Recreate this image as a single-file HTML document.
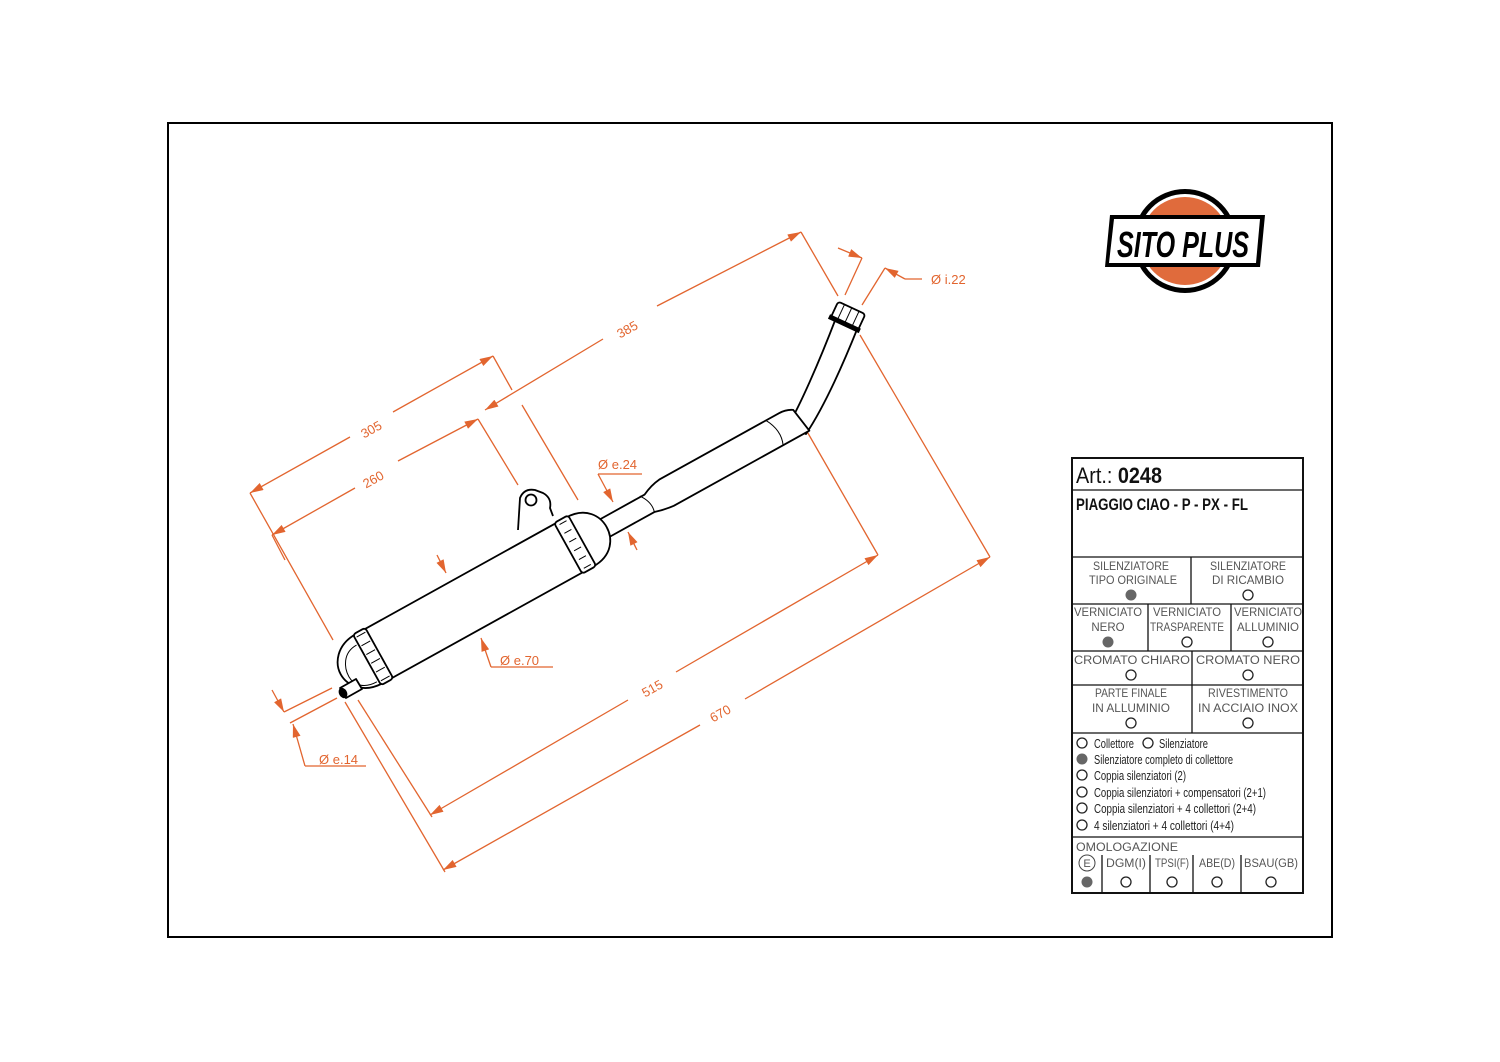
<!DOCTYPE html>
<html><head><meta charset="utf-8"><style>
html,body{margin:0;padding:0;background:#fff}
svg{display:block}
.o{stroke:#e2652f;stroke-width:1.3;fill:none}
.ot{fill:#e2652f;font-family:"Liberation Sans",sans-serif;font-size:13px}
.k{stroke:#000;stroke-width:1.8;fill:#fff;stroke-linejoin:round}
.kt{stroke:#000;stroke-width:1;fill:none}
.t{font-family:"Liberation Sans",sans-serif;font-size:11.5px;fill:#555;text-anchor:middle}
.l{font-family:"Liberation Sans",sans-serif;font-size:12.5px;fill:#222}
.c{fill:#fff;stroke:#222;stroke-width:1.3}
.f{fill:#666}
</style></head><body>
<svg width="1500" height="1062" viewBox="0 0 1500 1062">
<defs>
<marker id="a" viewBox="0 0 10 6" refX="10" refY="3" markerWidth="14" markerHeight="8" markerUnits="userSpaceOnUse" orient="auto-start-reverse"><path d="M0,0L10,3L0,6z" fill="#e2652f"/></marker>
</defs>
<rect x="168" y="123" width="1164" height="814" fill="none" stroke="#000" stroke-width="2"/>

<!-- logo -->
<circle cx="1185" cy="241" r="52" fill="#000"/>
<circle cx="1185" cy="241" r="47" fill="#fff"/>
<circle cx="1185" cy="241" r="44" fill="#e06b3c"/>
<path d="M1110,215 L1265,215 L1260,267 L1105,267 Z" fill="#000"/>
<path d="M1114,219 L1260,219 L1256,263 L1109,263 Z" fill="#fff"/>
<text x="1183" y="257" text-anchor="middle" font-family="Liberation Sans,sans-serif" font-weight="bold" font-style="italic" font-size="36" textLength="132" lengthAdjust="spacingAndGlyphs" fill="#000">SITO PLUS</text>

<!-- dimension lines -->
<g class="o">
<line x1="250" y1="493" x2="333" y2="640"/>
<line x1="250" y1="493" x2="350" y2="437" marker-start="url(#a)"/>
<line x1="393" y1="412" x2="493" y2="356" marker-end="url(#a)"/>
<line x1="493" y1="356" x2="512" y2="390"/>
<line x1="485" y1="410" x2="603" y2="339" marker-start="url(#a)"/>
<line x1="657" y1="306" x2="801" y2="232" marker-end="url(#a)"/>
<line x1="801" y1="232" x2="838" y2="296"/>
<line x1="272" y1="535" x2="355" y2="488" marker-start="url(#a)"/>
<line x1="398" y1="461" x2="478" y2="419" marker-end="url(#a)"/>
<line x1="478" y1="419" x2="518" y2="485"/>
<line x1="272" y1="535" x2="285" y2="560"/>
<line x1="522" y1="405" x2="578" y2="500"/>
<line x1="838" y1="248" x2="862" y2="258" marker-end="url(#a)"/>
<line x1="862" y1="258" x2="845" y2="295"/>
<line x1="885" y1="268" x2="862" y2="305"/>
<line x1="905" y1="279" x2="885" y2="268" marker-end="url(#a)"/>
<line x1="905" y1="279" x2="922" y2="279"/>
<line x1="805" y1="428" x2="878" y2="555"/>
<line x1="860" y1="335" x2="990" y2="557"/>
<line x1="358" y1="700" x2="432" y2="817"/>
<line x1="345" y1="702" x2="445" y2="872"/>
<line x1="430" y1="815" x2="628" y2="700" marker-start="url(#a)"/>
<line x1="676" y1="672" x2="878" y2="555" marker-end="url(#a)"/>
<line x1="443" y1="870" x2="700" y2="725" marker-start="url(#a)"/>
<line x1="745" y1="699" x2="990" y2="557" marker-end="url(#a)"/>
<line x1="598" y1="474" x2="642" y2="474"/>
<line x1="598" y1="474" x2="613" y2="502" marker-end="url(#a)"/>
<line x1="637" y1="550" x2="628" y2="532" marker-end="url(#a)"/>
<line x1="437" y1="555" x2="446" y2="573" marker-end="url(#a)"/>
<line x1="491" y1="667" x2="553" y2="667"/>
<line x1="491" y1="667" x2="481" y2="638" marker-end="url(#a)"/>
<line x1="272" y1="690" x2="284" y2="712" marker-end="url(#a)"/>
<line x1="284" y1="712" x2="332" y2="688"/>
<line x1="290" y1="723" x2="337" y2="698"/>
<line x1="305" y1="766" x2="293" y2="724" marker-end="url(#a)"/>
<line x1="305" y1="766" x2="366" y2="766"/>
</g>
<g class="ot" text-anchor="middle">
<text x="0" y="5" transform="translate(627,329) rotate(-29)">385</text>
<text x="0" y="5" transform="translate(371,429) rotate(-29)">305</text>
<text x="0" y="5" transform="translate(373,479) rotate(-29)">260</text>
<text x="0" y="5" transform="translate(652,688) rotate(-29)">515</text>
<text x="0" y="5" transform="translate(720,713) rotate(-29)">670</text>
</g>
<g class="ot">
<text x="931" y="284">Ø i.22</text>
<text x="598" y="469">Ø e.24</text>
<text x="500" y="665">Ø e.70</text>
<text x="319" y="764">Ø e.14</text>
</g>

<!-- muffler -->
<path class="k" d="M788,426 C800,405 818,365 836,318 L858,327 C840,372 822,410 806,434 Z"/>
<g transform="translate(374,656) rotate(-29)">
<path class="k" d="M262,-10 L315,-10 Q325,-15 335,-16 L472,-16 Q480,-16 486,-12 L490,14 L335,14 Q325,13 315,10 L262,10 Z"/>
<path class="kt" d="M310,-11 Q318,0 315,10"/>
<path class="kt" d="M457,-16 Q466,0 460,14"/>
<path class="k" d="M235,-28 C258,-28 266,-12 266,0 C266,12 258,28 235,28 Z"/>
<rect class="k" x="0" y="-28" width="228" height="56"/>
<rect class="k" x="222" y="-29" width="16" height="58" rx="3"/>
<path class="kt" d="M226,-25 L234,-25 M226,-15 L234,-15 M226,-5 L234,-5 M226,5 L234,5 M226,15 L234,15 M226,25 L234,25"/>
<path class="k" d="M-5,-28 C-28,-28 -38,-12 -38,0 C-38,12 -28,28 -5,28 Z"/>
<rect class="k" x="-8" y="-29" width="14" height="58" rx="3"/>
<path class="kt" d="M-6,-25 L4,-25 M-6,-15 L4,-15 M-6,-5 L4,-5 M-6,5 L4,5 M-6,15 L4,15 M-6,25 L4,25"/>
<path class="kt" d="M-10,-18 C-26,-18 -32,-4 -32,6 C-32,16 -24,24 -10,24"/>
</g>
<path class="k" d="M340,688 L356,679 L362,689 L346,698 Z"/>
<ellipse cx="343" cy="693" rx="4" ry="5.5" fill="#000" transform="rotate(-29 343 693)"/>
<path class="k" d="M518,530 L520,498 Q524,488 535,490 L543,493 Q552,498 550,508 L553,516"/>
<circle class="k" cx="531" cy="500" r="5.5"/>
<g transform="translate(848,316) rotate(25)">
<rect class="k" x="-15" y="-9" width="30" height="18" rx="3"/>
<path class="kt" d="M-8,-9 L-8,9 M0,-9 L0,9 M8,-9 L8,9"/>
<rect x="-17" y="6" width="34" height="5" fill="#000"/>
</g>

<!-- table -->
<g fill="none" stroke="#111">
<rect x="1072" y="458" width="231" height="435" stroke-width="2"/>
<g stroke-width="1.3">
<line x1="1072" y1="490" x2="1303" y2="490"/>
<line x1="1072" y1="557" x2="1303" y2="557"/>
<line x1="1072" y1="604" x2="1303" y2="604"/>
<line x1="1072" y1="651" x2="1303" y2="651"/>
<line x1="1072" y1="685" x2="1303" y2="685"/>
<line x1="1072" y1="733" x2="1303" y2="733"/>
<line x1="1072" y1="837" x2="1303" y2="837"/>
<line x1="1191" y1="557" x2="1191" y2="604"/>
<line x1="1148" y1="604" x2="1148" y2="651"/>
<line x1="1231" y1="604" x2="1231" y2="651"/>
<line x1="1192" y1="651" x2="1192" y2="733"/>
<line x1="1102" y1="855" x2="1102" y2="893"/>
<line x1="1150" y1="855" x2="1150" y2="893"/>
<line x1="1193" y1="855" x2="1193" y2="893"/>
<line x1="1241" y1="855" x2="1241" y2="893"/>
</g></g>
<text x="1076" y="483" font-family="Liberation Sans,sans-serif" font-size="22" fill="#111" textLength="86" lengthAdjust="spacingAndGlyphs">Art.: <tspan font-weight="bold">0248</tspan></text>
<text x="1076" y="510" font-family="Liberation Sans,sans-serif" font-size="17" font-weight="bold" fill="#111" textLength="172" lengthAdjust="spacingAndGlyphs">PIAGGIO CIAO - P - PX - FL</text>
<circle cx="1087" cy="863" r="8" fill="none" stroke="#444" stroke-width="1"/>
<g class="t">
<text x="1131" y="570" textLength="76" lengthAdjust="spacingAndGlyphs">SILENZIATORE</text><text x="1133" y="584" textLength="88" lengthAdjust="spacingAndGlyphs">TIPO ORIGINALE</text>
<text x="1248" y="570" textLength="76" lengthAdjust="spacingAndGlyphs">SILENZIATORE</text><text x="1248" y="584" textLength="72" lengthAdjust="spacingAndGlyphs">DI RICAMBIO</text>
<text x="1108" y="616" textLength="68" lengthAdjust="spacingAndGlyphs">VERNICIATO</text><text x="1108" y="631">NERO</text>
<text x="1187" y="616" textLength="68" lengthAdjust="spacingAndGlyphs">VERNICIATO</text><text x="1187" y="631" textLength="74" lengthAdjust="spacingAndGlyphs">TRASPARENTE</text>
<text x="1268" y="616" textLength="68" lengthAdjust="spacingAndGlyphs">VERNICIATO</text><text x="1268" y="631" textLength="62" lengthAdjust="spacingAndGlyphs">ALLUMINIO</text>
<text x="1132" y="664" textLength="116" lengthAdjust="spacingAndGlyphs">CROMATO CHIARO</text>
<text x="1248" y="664" textLength="104" lengthAdjust="spacingAndGlyphs">CROMATO NERO</text>
<text x="1131" y="697" textLength="72" lengthAdjust="spacingAndGlyphs">PARTE FINALE</text><text x="1131" y="712" textLength="78" lengthAdjust="spacingAndGlyphs">IN ALLUMINIO</text>
<text x="1248" y="697" textLength="80" lengthAdjust="spacingAndGlyphs">RIVESTIMENTO</text><text x="1248" y="712" textLength="100" lengthAdjust="spacingAndGlyphs">IN ACCIAIO INOX</text>
<text x="1076" y="851" text-anchor="start" textLength="102" lengthAdjust="spacingAndGlyphs">OMOLOGAZIONE</text>
<text x="1126" y="867" textLength="40" lengthAdjust="spacingAndGlyphs">DGM(I)</text><text x="1172" y="867" textLength="34" lengthAdjust="spacingAndGlyphs">TPSI(F)</text><text x="1217" y="867" textLength="36" lengthAdjust="spacingAndGlyphs">ABE(D)</text><text x="1271" y="867" textLength="54" lengthAdjust="spacingAndGlyphs">BSAU(GB)</text>
<text x="1087" y="867" font-size="11">E</text>
</g>
<circle class="f" cx="1131" cy="595" r="5.5"/>
<circle class="c" cx="1248" cy="595" r="5"/>
<circle class="f" cx="1108" cy="642" r="5.5"/>
<circle class="c" cx="1187" cy="642" r="5"/>
<circle class="c" cx="1268" cy="642" r="5"/>
<circle class="c" cx="1131" cy="675" r="5"/>
<circle class="c" cx="1248" cy="675" r="5"/>
<circle class="c" cx="1131" cy="723" r="5"/>
<circle class="c" cx="1248" cy="723" r="5"/>
<circle class="f" cx="1087" cy="882" r="5.5"/>
<circle class="c" cx="1126" cy="882" r="5"/>
<circle class="c" cx="1172" cy="882" r="5"/>
<circle class="c" cx="1217" cy="882" r="5"/>
<circle class="c" cx="1271" cy="882" r="5"/>
<circle class="c" cx="1082" cy="743" r="5"/><circle class="c" cx="1148" cy="743" r="5"/>
<circle class="f" cx="1082" cy="759" r="5.5"/>
<circle class="c" cx="1082" cy="775" r="5"/>
<circle class="c" cx="1082" cy="792" r="5"/>
<circle class="c" cx="1082" cy="808" r="5"/>
<circle class="c" cx="1082" cy="825" r="5"/>
<g class="l">
<text x="1094" y="748" textLength="40" lengthAdjust="spacingAndGlyphs">Collettore</text>
<text x="1159" y="748" textLength="49" lengthAdjust="spacingAndGlyphs">Silenziatore</text>
<text x="1094" y="764" textLength="139" lengthAdjust="spacingAndGlyphs">Silenziatore completo di collettore</text>
<text x="1094" y="780" textLength="92" lengthAdjust="spacingAndGlyphs">Coppia silenziatori (2)</text>
<text x="1094" y="797" textLength="172" lengthAdjust="spacingAndGlyphs">Coppia silenziatori + compensatori (2+1)</text>
<text x="1094" y="813" textLength="162" lengthAdjust="spacingAndGlyphs">Coppia silenziatori + 4 collettori (2+4)</text>
<text x="1094" y="830" textLength="140" lengthAdjust="spacingAndGlyphs">4 silenziatori + 4 collettori (4+4)</text>
</g>
</svg>
</body></html>
